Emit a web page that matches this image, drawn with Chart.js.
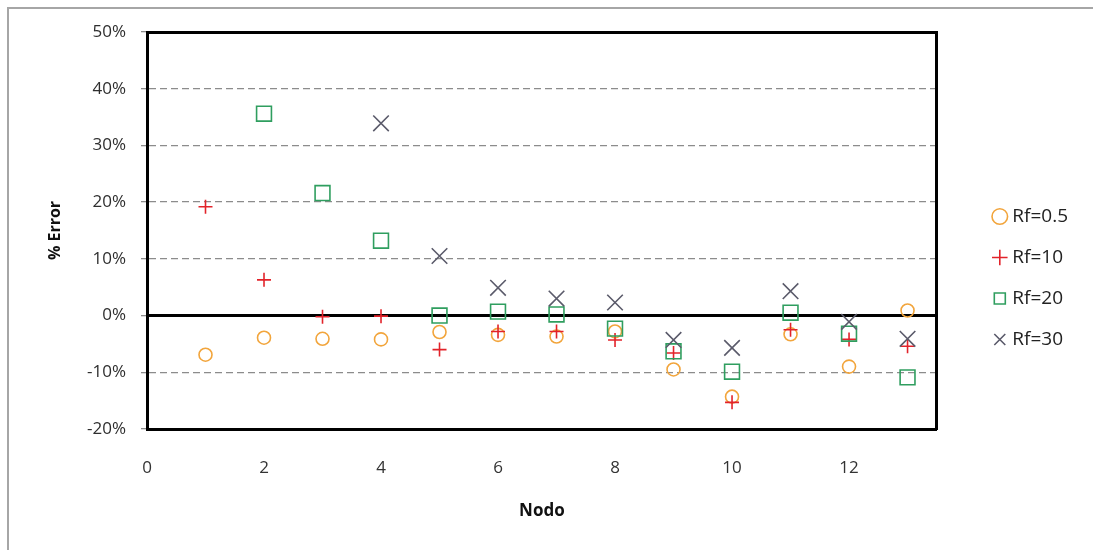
<!DOCTYPE html>
<html>
<head>
<meta charset="utf-8">
<script src="https://cdn.jsdelivr.net/npm/chart.js@4"></script>
<style>
    html, body { margin: 0; padding: 0; background: #fff; }
    #wrap { position: relative; width: 1093px; height: 550px; overflow: hidden; }
    #frame { position: absolute; left: 7px; top: 7px; width: 1200px; height: 700px;
             border-left: 2px solid #a6a6a6; border-top: 2px solid #a6a6a6; }
    #chart { position: absolute; left: 0; top: 0; }
</style>
</head>
<body>
<div id="wrap">
    <div id="frame"></div>
    <canvas id="chart" width="1093" height="550"></canvas>
</div>
<script>
const nodes = [1, 2, 3, 4, 5, 6, 7, 8, 9, 10, 11, 12, 13];
const rf05 = [-6.9, -3.9, -4.1, -4.2, -2.9, -3.4, -3.7, -2.8, -9.5, -14.3, -3.3, -9.0, 0.9];
const rf10 = [19.2, 6.3, -0.2, -0.1, -6.0, -2.8, -2.8, -4.3, -6.6, -15.3, -2.5, -4.2, -5.4];
const rf20 = [null, 35.6, 21.6, 13.2, 0.0, 0.7, 0.2, -2.3, -6.3, -9.9, 0.5, -3.2, -10.9];
const rf30 = [null, null, null, 33.9, 10.5, 4.9, 3.0, 2.3, -4.3, -5.7, 4.3, -1.1, -4.1];
const yTicks = [-20, -10, 0, 10, 20, 30, 40, 50];
const xTicks = [0, 2, 4, 6, 8, 10, 12];

const FONT = "'Open Sans', sans-serif";

function points(values) {
    const out = [];
    nodes.forEach((n, i) => {
        if (values[i] !== null) out.push({x: n, y: values[i]});
    });
    return out;
}

function dataset(label, values, style, color, radius, order) {
    return {
        label: label,
        data: points(values),
        pointStyle: style,
        pointRadius: radius,
        pointHoverRadius: radius,
        borderColor: color,
        backgroundColor: 'rgba(0,0,0,0)',
        pointBorderWidth: 1.6,
        showLine: false,
        order: order
    };
}

// hidden helper axes: top / right frame of the plot
function frameAxis(pos, fit) {
    return {
        type: 'linear',
        position: pos,
        min: pos === 'right' ? yTicks[0] : 0,
        max: pos === 'right' ? yTicks[yTicks.length - 1] : 13.5,
        grid: {display: false},
        ticks: {display: false},
        border: {display: true, color: '#000', width: 3},
        afterFit: fit
    };
}

new Chart(document.getElementById('chart'), {
    type: 'scatter',
    data: {
        datasets: [
            dataset('Rf=0.5', rf05, 'circle', '#f2a53c', 6.5, 3),
            dataset('Rf=10', rf10, 'cross', '#e2232a', 7, 2),
            dataset('Rf=20', rf20, 'rect', '#2f9e5f', 10.5, 1),
            dataset('Rf=30', rf30, 'crossRot', '#5b5b6b', 11, 0)
        ]
    },
    options: {
        responsive: false,
        animation: false,
        layout: {
            padding: {left: 0, top: 6, right: 15, bottom: 0}
        },
        plugins: {
            tooltip: {enabled: false},
            legend: {
                position: 'right',
                labels: {
                    usePointStyle: true,
                    boxWidth: 6,
                    boxHeight: 11,
                    padding: 22,
                    color: '#222',
                    font: {family: FONT, size: 19},
                    sort: (a, b) => a.datasetIndex - b.datasetIndex
                }
            }
        },
        scales: {
            x: {
                type: 'linear',
                position: 'bottom',
                min: 0,
                max: 13.5,
                afterBuildTicks: s => { s.ticks = xTicks.map(v => ({value: v})); },
                grid: {display: false},
                border: {display: true, color: '#000', width: 3},
                ticks: {
                    color: '#333',
                    padding: 21,
                    font: {family: FONT, size: 17}
                },
                title: {
                    display: true,
                    text: 'Nodo',
                    color: '#111',
                    font: {family: FONT, size: 17, weight: 'bold'},
                    padding: {top: 0, bottom: 29}
                },
                afterFit: s => { s.height = 121; }
            },
            xTop: frameAxis('top', s => { s.height = 26; }),
            yRight: frameAxis('right', s => { s.width = 38; }),
            // solid zero line
            xZero: {
                type: 'linear',
                position: {y: 0},
                min: 0,
                max: 13.5,
                grid: {display: false},
                ticks: {display: false},
                border: {display: true, color: '#000', width: 3}
            },
            y: {
                type: 'linear',
                position: 'left',
                min: yTicks[0],
                max: yTicks[yTicks.length - 1],
                afterBuildTicks: s => { s.ticks = yTicks.map(v => ({value: v})); },
                grid: {
                    color: ctx => {
                        const v = ctx.tick ? ctx.tick.value : null;
                        if (v === 0 || v === -20 || v === 50) return 'rgba(0,0,0,0)';
                        return '#8c8c8c';
                    },
                    lineWidth: 1.3,
                    tickColor: '#8c8c8c',
                    tickLength: 6,
                    tickWidth: 1.3
                },
                border: {display: true, color: '#000', width: 3, dash: [7, 4]},
                ticks: {
                    color: '#2e2e2e',
                    padding: 15,
                    font: {family: FONT, size: 17},
                    callback: v => v + '%'
                },
                title: {
                    display: true,
                    text: '% Error',
                    color: '#111',
                    font: {family: FONT, size: 16, weight: 'bold'},
                    padding: {top: 46, bottom: 0}
                },
                afterFit: s => { s.width = 147; }
            }
        }
    }
});
</script>
</body>
</html>
